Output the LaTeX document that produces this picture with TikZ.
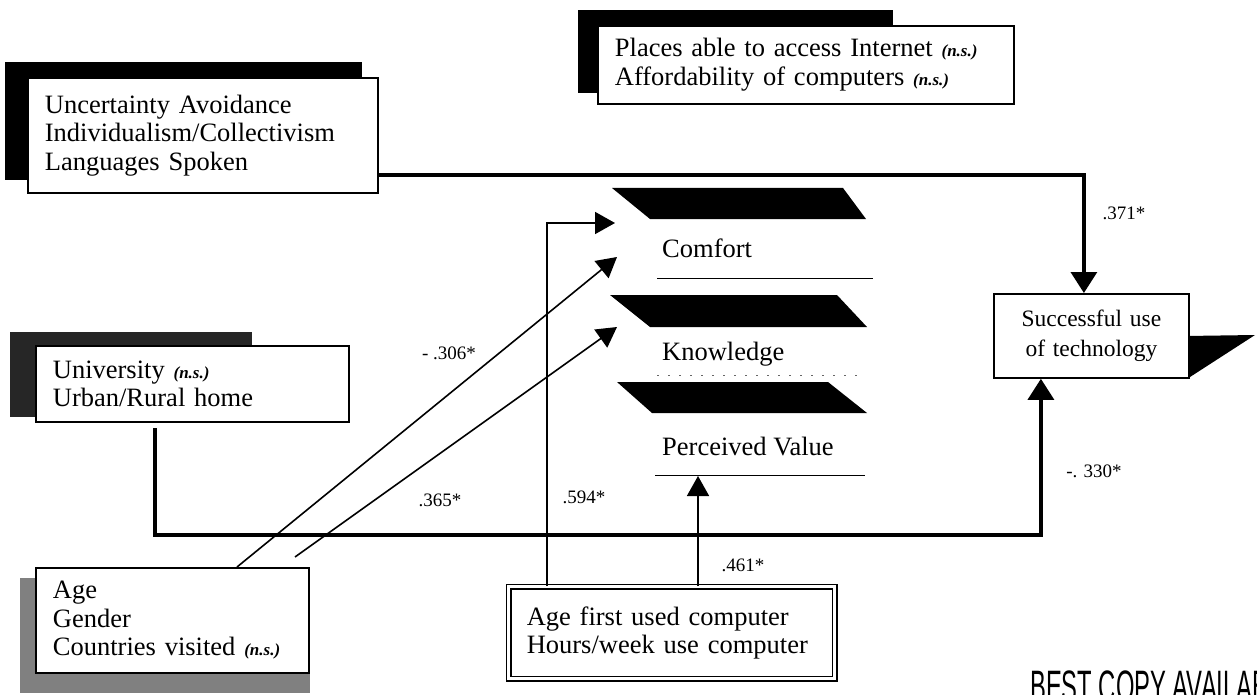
\documentclass[tikz,border=0pt]{standalone}
\usepackage{fontspec}
\setmainfont{Liberation Serif}
\newfontfamily\stampfont[FakeStretch=0.54]{Liberation Sans}
\usetikzlibrary{arrows.meta}
\newcommand\nsmark{{\fontsize{17}{17}\selectfont\bfseries\itshape(n.s.)}}
\tikzset{
  box/.style={draw, line width=1.8pt, fill=white, anchor=north west, inner xsep=17pt, inner ysep=0pt,
    align=left, font=\fontsize{26.5}{28.5}\selectfont},
  construct/.style={anchor=base west, inner sep=0pt, font=\fontsize{26.5}{28}\selectfont},
  coef/.style={inner sep=0pt, font=\fontsize{19}{19}\selectfont},
  thinarrow/.style={line width=1.6pt, -{Triangle[length=20pt,width=22pt]}},
  thickarrow/.style={line width=3.2pt, -{Triangle[length=21pt,width=26pt]}},
  shadowfill/.style={fill=black},
}
\begin{document}
\begin{tikzpicture}[x=1pt,y=-1pt]
\useasboundingbox (0,0) rectangle (1257,695);
\fill[white] (0,0) rectangle (1257,695);

% shadows
\fill[shadowfill] (5,62) rectangle (362,180);
\fill[shadowfill] (578,10) rectangle (893,93);
\fill[black!85] (10,332) rectangle (252,417);
\fill[black!50] (20,578) rectangle (310,693);
\fill[shadowfill] (1186,336) -- (1255,335) -- (1190,377) -- cycle;

% boxes
\node[box, minimum width=350pt, minimum height=115pt, text width=316pt] (tl) at (27,77)
  {Uncertainty Avoidance\\Individualism/Collectivism\\Languages Spoken};
\node[box, minimum width=416pt, minimum height=78pt, text width=382pt] (tc) at (597,25)
  {Places able to access Internet \nsmark\\Affordability of computers \nsmark};
\node[box, minimum width=313pt, minimum height=76pt, text width=279pt] (univ) at (35,345)
  {University \nsmark\\Urban/Rural home};
\node[box, minimum width=273pt, minimum height=105pt, text width=239pt] (age) at (35,567)
  {Age\\Gender\\Countries visited \nsmark};
\node[box, line width=1.5pt, double, double distance=3pt, minimum width=326pt, minimum height=92pt,
  text width=290pt, inner xsep=18pt] (agefirst) at (508,586)
  {Age first used computer\\Hours/week use computer};
\node[box, align=center, inner xsep=6pt, minimum width=195pt, minimum height=84pt, text width=183pt,
  font=\fontsize{23.5}{30}\selectfont] (success) at (993,293)
  {Successful use\\of technology};

% mediating constructs
\fill (612,188) -- (843,188) -- (866,219) -- (650,219) -- cycle;
\fill (610,295) -- (837,295) -- (867,327) -- (650,327) -- cycle;
\fill (617,382) -- (828,382) -- (867,413) -- (652,413) -- cycle;
\node[construct] (comfort) at (662,257) {Comfort};
\node[construct] (knowledge) at (662,360) {Knowledge};
\node[construct] (pvalue) at (662,455) {Perceived Value};
\draw[line width=1pt] (657,278) -- (873,278);
\draw[line width=0.8pt, black!60, dash pattern=on 2pt off 9pt] (657,375) -- (865,375);
\draw[line width=1pt] (655,475) -- (865,475);

% connector end points
\coordinate (tlout) at (377,175);
\coordinate (univout) at (155,428);
\coordinate (comfortin) at (615,223);
\coordinate (comfortdiag) at (617,257);
\coordinate (knowdiag) at (617,327);
\coordinate (diagtwostart) at (295,557);
\coordinate (pvin) at (698,476);

% thick connectors to outcome
\draw[thickarrow] (tlout) -| ([xshift=-7.5pt]success.north);
\draw[thickarrow] (univout) -- ++(0,107) -| ([xshift=-50.5pt]success.south);

% thin connectors
\draw[thinarrow] ([xshift=39pt]agefirst.north west) |- (comfortin);
\draw[thinarrow] ([xshift=190pt]agefirst.north west) -- (pvin);
\draw[thinarrow] ([xshift=202pt]age.north west) -- (comfortdiag);
\draw[thinarrow] (diagtwostart) -- (knowdiag);

% coefficients
\node[coef] (c371) at (1124,213) {.371*};
\node[coef] (c330) at (1094,471) {-. 330*};
\node[coef] (c306) at (449,353) {- .306*};
\node[coef] (c365) at (440,500) {.365*};
\node[coef] (c594) at (584,497) {.594*};
\node[coef] (c461) at (743,565) {.461*};

% stamp (cut off by the page edge, as in the original)
\begin{scope}
\clip (0,0) rectangle (1257,695);
\node[anchor=base west, inner sep=0pt, font=\stampfont\fontsize{44}{44}\selectfont] (stamp) at (1030,701) {BEST COPY AVAILABLE};
\end{scope}
\end{tikzpicture}
\end{document}
